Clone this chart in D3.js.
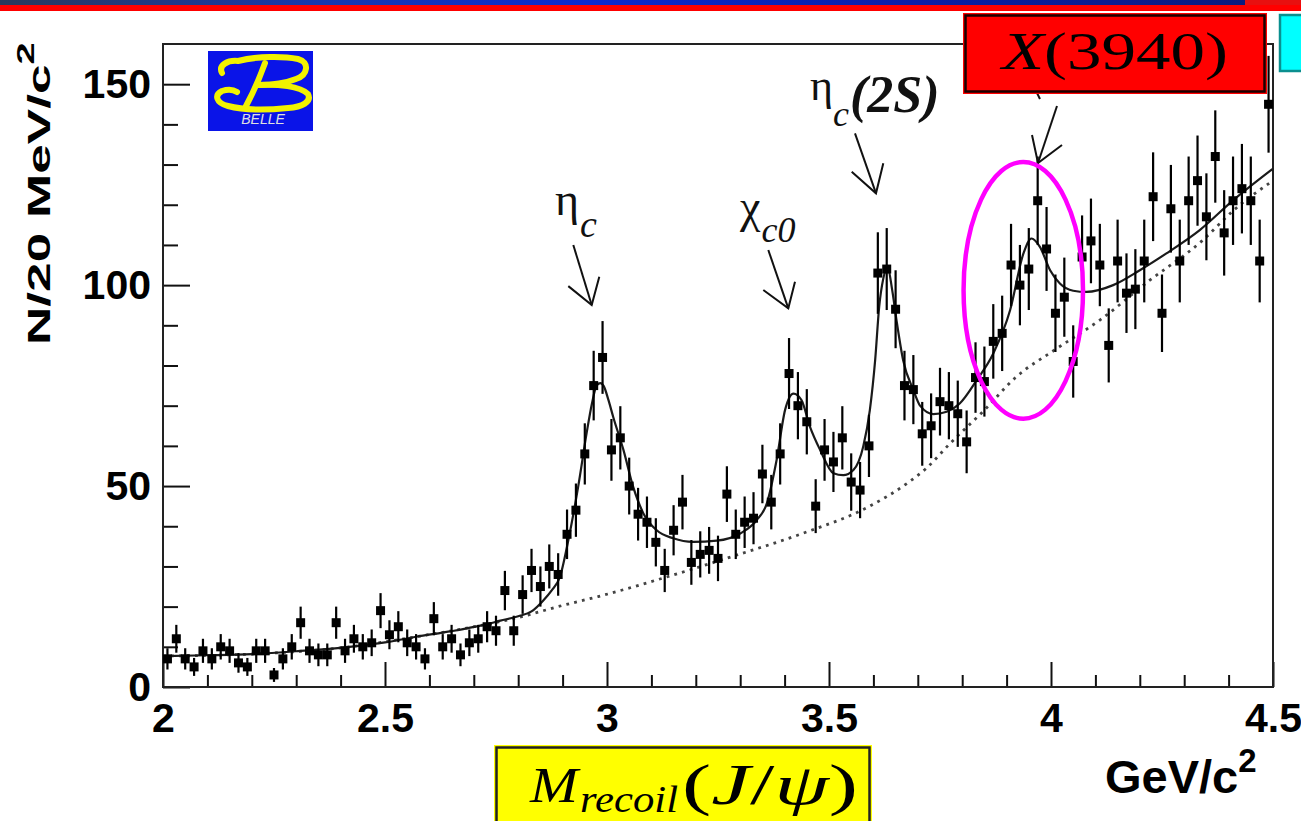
<!DOCTYPE html>
<html>
<head>
<meta charset="utf-8">
<script src="https://cdn.jsdelivr.net/npm/d3@7"></script>
<style>
  html, body { margin: 0; padding: 0; background: #ffffff; }
  svg { display: block; }
</style>
</head>
<body>
<svg id="chart" width="1301" height="821"></svg>
<script>
// Mass recoiling against J/psi: 20 MeV/c^2 bins from 2.0 to 4.5 GeV/c^2
const binStart = 2.0;
const binWidth = 0.02;

// Events per bin
const counts = [
  7, 12, 7, 5, 9, 7, 10, 9, 6, 5,
  9, 9, 3, 7, 10, 16, 9, 8, 8, 16,
  9, 12, 10, 11, 19, 13, 15, 11, 10, 7,
  17, 10, 12, 8, 11, 12, 15, 14, 24, 14,
  23, 29, 25, 30, 28, 38, 44, 58, 75, 82,
  59, 62, 50, 43, 41, 36, 29, 39, 46, 31,
  33, 34, 32, 48, 38, 41, 42, 53, 46, 58,
  78, 70, 66, 45, 59, 56, 62, 51, 49, 60,
  103, 104, 94, 75, 74, 63, 65, 71, 70, 68,
  61, 77, 76, 86, 88, 105, 100, 104, 121, 109,
  93, 97, 81, 107, 111, 105, 85, 106, 98, 99,
  106, 122, 93, 119, 106, 121, 126, 117, 132, 113,
  121, 124, 121, 106, 145
];

// Total fit (signal peaks + background)
const fitX = [2.00, 2.10, 2.20, 2.30, 2.42, 2.50, 2.57, 2.65, 2.72, 2.76,
  2.80, 2.83, 2.857, 2.875, 2.894, 2.913, 2.935, 2.954, 2.966, 2.977,
  2.985, 2.993, 3.003, 3.014, 3.037, 3.059, 3.082, 3.112, 3.149, 3.194,
  3.247, 3.300, 3.337, 3.360, 3.382, 3.401, 3.420, 3.438, 3.457, 3.480,
  3.510, 3.532, 3.555, 3.577, 3.592, 3.604, 3.613, 3.622, 3.632, 3.642,
  3.652, 3.667, 3.690, 3.705, 3.735, 3.765, 3.795, 3.833, 3.870, 3.908,
  3.938, 3.956, 3.975, 3.998, 4.020, 4.050, 4.080, 4.140, 4.200, 4.260,
  4.335, 4.410, 4.500];
const fitY = [7.7, 7.9, 8.2, 8.9, 10.0, 11.1, 12.5, 13.9, 15.4, 16.5,
  17.6, 18.8, 21.6, 24.0, 27.4, 36.6, 49.8, 63.1, 70.5, 75.1,
  75.6, 74.8, 71.5, 67.2, 59.0, 49.8, 43.2, 39.0, 37.0, 36.1,
  36.4, 38.2, 41.5, 45.7, 56.5, 68.9, 73.0, 71.4, 64.8, 59.0,
  53.2, 52.7, 54.0, 59.8, 68.9, 81.4, 94.6, 101.5, 104.5, 99.0,
  91.3, 81.3, 73.9, 70.0, 67.9, 68.5, 70.6, 76.4, 83.0, 93.8,
  107.9, 111.6, 109.5, 103.7, 100.4, 98.6, 98.3, 100.0, 103.7, 107.9,
  113.7, 121.1, 129.0];

// Background component of the fit
const bkgX = [2.00, 2.20, 2.42, 2.57, 2.72, 2.80, 2.90, 2.98, 3.15, 3.28,
  3.44, 3.59, 3.68, 3.72, 3.77, 3.85, 3.92, 4.01, 4.11, 4.22,
  4.34, 4.41, 4.50];
const bkgY = [7.7, 8.2, 10.0, 12.5, 15.4, 17.3, 20.3, 22.5, 27.9, 32.4,
  38.2, 44.9, 51.0, 54.5, 60.3, 68.9, 77.0, 84.0, 91.3, 101.0,
  111.0, 118.5, 126.0];

// Axis ticks
const xMajorTicks = [2, 2.5, 3, 3.5, 4, 4.5];
const xTickLabels = ["2", "2.5", "3", "3.5", "4", "4.5"];
const xMinorTicks = [2.1, 2.2, 2.3, 2.4, 2.6, 2.7, 2.8, 2.9, 3.1, 3.2, 3.3, 3.4,
  3.6, 3.7, 3.8, 3.9, 4.1, 4.2, 4.3, 4.4];
const yMajorTicks = [0, 50, 100, 150];
const yTickLabels = ["0", "50", "100", "150"];
const yMinorTicks = [10, 20, 30, 40, 60, 70, 80, 90, 110, 120, 130, 140];

// Peak annotations: arrow (shaft start, tip, two head ends)
const peakArrows = [
  { from: [2.9241, 109.98], tip: [2.96554, 95.05], h1: [2.91284, 99.75], h2: [2.98266, 102.10] },
  { from: [3.36329, 108.74], tip: [3.40833, 94.23], h1: [3.35203, 98.79], h2: [3.42342, 100.85] },
  { from: [3.55856, 137.78], tip: [3.60586, 122.85], h1: [3.55113, 128.22], h2: [3.6223, 130.31] },
  { from: [4.01351, 144.57], tip: [3.97072, 130.39], h1: [3.95721, 137.36], h2: [4.02477, 134.87] }
];
const hiddenArrowBits = [
  [[3.9685, 147.8], [3.9752, 146.3]],
  [[4.22297, 147.93], [4.25225, 149.67]]
];
const candidateRing = { cx: 3.9376, cy: 98.7, rx: 0.1345, ry: 31.93 };

const W = 1301, H = 821;
const svg = d3.select("#chart");

const x = d3.scaleLinear().domain([2, 4.5]).range([163, 1273]);
const y = d3.scaleLinear().domain([0, 160]).range([687, 44]);

// ---- slide header strip ----
const defs = svg.append("defs");
const grad = defs.append("linearGradient").attr("id", "hdr").attr("x1", "0").attr("x2", "1");
[["0", "#2a3a5c"], ["0.25", "#1638b0"], ["0.45", "#0b2ad0"], ["0.7", "#0a1ea8"], ["1", "#0c1a78"]]
  .forEach(([o, c]) => grad.append("stop").attr("offset", o).attr("stop-color", c));
svg.append("rect").attr("x", 0).attr("y", 0).attr("width", W).attr("height", 5).attr("fill", "url(#hdr)");
svg.append("rect").attr("x", 1245).attr("y", 0).attr("width", 56).attr("height", 5).attr("fill", "#e81010");
svg.append("rect").attr("x", 0).attr("y", 5).attr("width", W).attr("height", 6).attr("fill", "#ff0000");

// ---- frame and axes ----
const plot = svg.append("g");

function styleAxis(g) {
  g.select(".domain").remove();
  g.selectAll(".tick line").attr("stroke", "#111").attr("stroke-width", 2);
  g.selectAll(".tick text")
    .attr("fill", "#000")
    .style("font-family", "'Liberation Sans', Arial, sans-serif")
    .style("font-weight", "bold")
    .style("font-size", "41px");
}

plot.append("g").attr("transform", `translate(${x(2)},0)`)
  .call(d3.axisLeft(y).tickValues(yMinorTicks).tickSize(-15).tickFormat(""))
  .call(styleAxis);
plot.append("g").attr("transform", `translate(${x(2)},0)`)
  .call(d3.axisLeft(y).tickValues(yMajorTicks).tickSize(-27).tickPadding(12)
    .tickFormat((d, i) => yTickLabels[i]))
  .call(styleAxis);

plot.append("g").attr("transform", `translate(0,${y(0)})`)
  .call(d3.axisBottom(x).tickValues(xMinorTicks).tickSize(-12).tickFormat(""))
  .call(styleAxis);
plot.append("g").attr("transform", `translate(0,${y(0)})`)
  .call(d3.axisBottom(x).tickValues(xMajorTicks).tickSize(-25).tickPadding(16)
    .tickFormat((d, i) => xTickLabels[i]))
  .call(styleAxis);

plot.append("rect")
  .attr("x", x(2)).attr("y", y(160))
  .attr("width", x(4.5) - x(2)).attr("height", y(0) - y(160))
  .attr("fill", "none").attr("stroke", "#222").attr("stroke-width", 2);

// ---- axis titles ----
const yTitle = svg.append("text")
  .attr("transform", `translate(50,345) rotate(-90) scale(1.66,1)`)
  .style("font-family", "'Liberation Sans', Arial, sans-serif")
  .style("font-weight", "bold")
  .style("font-size", "32px")
  .attr("fill", "#000");
yTitle.append("tspan").text("N/20 MeV/c");
yTitle.append("tspan").attr("dy", -16).style("font-size", "24px").text("2");

const xTitle = svg.append("text")
  .attr("x", 1105).attr("y", 793)
  .style("font-family", "'Liberation Sans', Arial, sans-serif")
  .style("font-weight", "bold")
  .style("font-size", "47px")
  .attr("fill", "#000");
xTitle.append("tspan").text("GeV/c");
xTitle.append("tspan").attr("dy", -21).style("font-size", "33px").text("2");

// ---- background and total fit ----
const line = d3.line().x(d => x(d[0])).y(d => y(d[1])).curve(d3.curveMonotoneX);
plot.append("path")
  .datum(bkgX.map((v, i) => [v, bkgY[i]]))
  .attr("d", line)
  .attr("fill", "none").attr("stroke", "#444").attr("stroke-width", 2.8)
  .attr("stroke-dasharray", "2.8,5.2");
plot.append("path")
  .datum(fitX.map((v, i) => [v, fitY[i]]))
  .attr("d", line)
  .attr("fill", "none").attr("stroke", "#1a1a1a").attr("stroke-width", 2.2);

// ---- data points with Poisson error bars ----
const pts = counts.map((n, i) => ({ m: binStart + binWidth * (i + 0.5), n: n, e: Math.sqrt(n) }));
const pg = plot.append("g");
pg.selectAll("line.err").data(pts).join("line")
  .attr("class", "err")
  .attr("x1", d => x(d.m)).attr("x2", d => x(d.m))
  .attr("y1", d => y(d.n - d.e)).attr("y2", d => y(d.n + d.e))
  .attr("stroke", "#000").attr("stroke-width", 2.2);
const ms = 9;
pg.selectAll("rect.pt").data(pts).join("rect")
  .attr("class", "pt")
  .attr("x", d => x(d.m) - ms / 2).attr("y", d => y(d.n) - ms / 2)
  .attr("width", ms).attr("height", ms)
  .attr("fill", "#000");

// ---- peak labels ----
const serif = "'Liberation Serif', 'Times New Roman', serif";
function peakLabel(xv, yv, parts) {
  const t = svg.append("text").attr("x", x(xv)).attr("y", y(yv))
    .style("font-family", serif).attr("fill", "#111");
  parts.forEach(p => {
    const s = t.append("tspan").text(p.t).style("font-size", p.size + "px");
    if (p.dy) s.attr("dy", p.dy);
    if (p.dx) s.attr("dx", p.dx);
    if (p.italic) s.style("font-style", "italic");
    if (p.bold) s.style("font-weight", "bold");
  });
}
peakLabel(2.88288, 117.45, [
  { t: "η", size: 46 },
  { t: "c", size: 38, italic: true, dy: 22, dx: 1 }
]);
peakLabel(3.29955, 115.71, [
  { t: "χ", size: 46 },
  { t: "c0", size: 36, italic: true, dy: 20, dx: 1 }
]);
peakLabel(3.45721, 146.07, [
  { t: "η", size: 44 },
  { t: "c", size: 36, italic: true, dy: 26, dx: 0 },
  { t: "(2S)", size: 52, italic: true, bold: true, dy: -14, dx: 1 }
]);

const ag = svg.append("g").attr("stroke", "#111").attr("stroke-width", 2).attr("fill", "none");
peakArrows.forEach(a => {
  ag.append("line").attr("x1", x(a.from[0])).attr("y1", y(a.from[1]))
    .attr("x2", x(a.tip[0])).attr("y2", y(a.tip[1]));
  ag.append("polyline").attr("points",
    [a.h1, a.tip, a.h2].map(p => `${x(p[0])},${y(p[1])}`).join(" "));
});
hiddenArrowBits.forEach(b => {
  ag.append("line").attr("x1", x(b[0][0])).attr("y1", y(b[0][1]))
    .attr("x2", x(b[1][0])).attr("y2", y(b[1][1]));
});

// ---- highlight ring around the X(3940) candidate ----
svg.append("ellipse")
  .attr("cx", x(candidateRing.cx)).attr("cy", y(candidateRing.cy))
  .attr("rx", x(candidateRing.cx + candidateRing.rx) - x(candidateRing.cx))
  .attr("ry", y(candidateRing.cy - candidateRing.ry) - y(candidateRing.cy))
  .attr("fill", "none").attr("stroke", "#ff00ff").attr("stroke-width", 4.5);

// ---- name boxes ----
svg.append("rect").attr("x", 963).attr("y", 13).attr("width", 304).attr("height", 81).attr("fill", "#ff0000");
svg.append("rect").attr("x", 965.5).attr("y", 15.5).attr("width", 299).attr("height", 76)
  .attr("fill", "none").attr("stroke", "#1a0000").attr("stroke-width", 2.5);
const xName = svg.append("text").attr("x", 1002).attr("y", 69)
  .attr("textLength", 226).attr("lengthAdjust", "spacingAndGlyphs")
  .style("font-family", serif).style("font-size", "52px").attr("fill", "#000");
xName.append("tspan").style("font-style", "italic").text("X");
xName.append("tspan").text("(3940)");

svg.append("rect").attr("x", 1280).attr("y", 15).attr("width", 30).attr("height", 56)
  .attr("fill", "#00ffff").attr("stroke", "#0a8f8f").attr("stroke-width", 2.5);

svg.append("rect").attr("x", 494).attr("y", 745).attr("width", 378).attr("height", 90).attr("fill", "#ffff00");
svg.append("rect").attr("x", 496.5).attr("y", 747.5).attr("width", 373).attr("height", 90)
  .attr("fill", "none").attr("stroke", "#222").attr("stroke-width", 2.5);
svg.append("text").attr("x", 530).attr("y", 802)
  .attr("textLength", 48).attr("lengthAdjust", "spacingAndGlyphs")
  .style("font-family", serif).style("font-style", "italic").style("font-size", "50px").text("M");
svg.append("text").attr("x", 580).attr("y", 812)
  .attr("textLength", 98).attr("lengthAdjust", "spacingAndGlyphs")
  .style("font-family", serif).style("font-style", "italic").style("font-size", "38px").text("recoil");
const jpsi = svg.append("text").attr("x", 682).attr("y", 804)
  .attr("textLength", 176).attr("lengthAdjust", "spacingAndGlyphs")
  .style("font-family", serif).style("font-size", "56px");
jpsi.append("tspan").text("(");
jpsi.append("tspan").style("font-style", "italic").text("J");
jpsi.append("tspan").text("/");
jpsi.append("tspan").style("font-style", "italic").text("ψ");
jpsi.append("tspan").text(")");

// ---- experiment logo ----
const logo = svg.append("g").attr("transform", "translate(208,51)");
logo.append("rect").attr("width", 105).attr("height", 80).attr("fill", "#0a14e8");
const bStroke = { stroke: "#f2f200", "stroke-width": 6, fill: "none", "stroke-linecap": "round" };
const bPaths = [
  "M14,22 C10,14 20,9 30,10 C50,5 75,5 90,8 C102,11 100,24 88,28 C78,32 62,34 50,34",
  "M50,34 C70,33 92,35 100,43 C104,51 94,56 80,57 C60,59 35,59 20,55 C8,52 6,44 14,40 C20,38 26,39 29,41",
  "M57,12 C52,26 45,42 38,55"
];
bPaths.forEach(d => {
  const p = logo.append("path").attr("d", d);
  Object.entries(bStroke).forEach(([k, v]) => p.attr(k, v));
});
logo.append("text").attr("x", 55).attr("y", 73).attr("text-anchor", "middle")
  .style("font-family", "'Liberation Sans', Arial, sans-serif").style("font-style", "italic")
  .style("font-size", "14px").attr("fill", "#e0e0e0").text("BELLE");
</script>
</body>
</html>
